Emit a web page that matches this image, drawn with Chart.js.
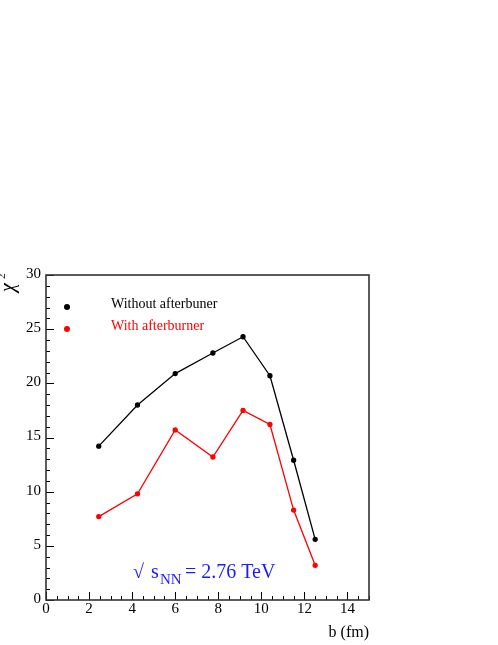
<!DOCTYPE html>
<html>
<head>
<meta charset="utf-8">
<script src="https://cdn.jsdelivr.net/npm/chart.js@4"></script>
<style>
  html, body { margin: 0; padding: 0; background: #fff; }
  #wrap { width: 498px; height: 645px; position: relative; }
</style>
</head>
<body>
<div id="wrap"><canvas id="chi2Chart" width="498" height="645"></canvas></div>
<script>
// valori
const impactB = [2.45, 4.25, 6.0, 7.75, 9.15, 10.4, 11.5, 12.5];
const chi2Without = [14.2, 18.0, 20.9, 22.8, 24.3, 20.7, 12.9, 5.6];
const chi2With = [7.7, 9.8, 15.7, 13.2, 17.5, 16.2, 8.3, 3.2];
const xTickLabels = [0, 2, 4, 6, 8, 10, 12, 14];
const yTickLabels = [0, 5, 10, 15, 20, 25, 30];
const legendLabels = ['Without afterbuner', 'With afterburner'];

const serif = '"Liberation Serif", "DejaVu Serif", serif';

// disegna cornice, tacche e testi alla maniera di ROOT
const rootFrame = {
  id: 'rootFrame',
  afterDraw(chart) {
    const ctx = chart.ctx;
    const xs = chart.scales.x;
    const ys = chart.scales.y;
    const a = chart.chartArea;
    ctx.save();

    // tacche
    ctx.strokeStyle = '#000';
    ctx.lineWidth = 1;
    for (let v = 0; v <= 15; v += 0.5) {
      const px = Math.round(xs.getPixelForValue(v)) + 0.5;
      const len = (v % 2 === 0) ? 8 : 4;
      ctx.beginPath();
      ctx.moveTo(px, a.bottom);
      ctx.lineTo(px, a.bottom - len);
      ctx.stroke();
    }
    for (let v = 0; v <= 30; v += 1) {
      const py = Math.round(ys.getPixelForValue(v)) + 0.5;
      const len = (v % 5 === 0) ? 8 : 4;
      ctx.beginPath();
      ctx.moveTo(a.left, py);
      ctx.lineTo(a.left + len, py);
      ctx.stroke();
    }

    // cornice
    ctx.strokeStyle = '#333';
    ctx.lineWidth = 1.6;
    ctx.strokeRect(a.left, a.top, a.right - a.left, a.bottom - a.top);

    // etichette
    ctx.fillStyle = '#000';
    ctx.font = '15px ' + serif;
    ctx.textAlign = 'center';
    ctx.textBaseline = 'middle';
    xTickLabels.forEach(v => {
      ctx.fillText(String(v), xs.getPixelForValue(v), a.bottom + 9);
    });
    ctx.textAlign = 'right';
    yTickLabels.forEach(v => {
      ctx.fillText(String(v), a.left - 5, ys.getPixelForValue(v) - 1);
    });

    // titoli degli assi
    ctx.font = '16px ' + serif;
    ctx.textAlign = 'right';
    ctx.textBaseline = 'alphabetic';
    ctx.fillText('b (fm)', a.right, 637);

    ctx.save();
    ctx.translate(14, 292);
    ctx.rotate(-Math.PI / 2);
    ctx.textAlign = 'left';
    ctx.font = 'italic 20px ' + serif;
    ctx.fillText('\u03C7', 0, 0);
    ctx.font = '11px ' + serif;
    ctx.fillText('2', 13, -9);
    ctx.restore();

    // legenda
    const colors = ['#000', '#ff0000'];
    const legY = [307, 329];
    ctx.font = '14px ' + serif;
    ctx.textAlign = 'left';
    ctx.textBaseline = 'middle';
    legendLabels.forEach((t, i) => {
      ctx.fillStyle = colors[i];
      ctx.beginPath();
      ctx.arc(67, legY[i], 3, 0, Math.PI * 2);
      ctx.fill();
      ctx.fillText(t, 111, legY[i] - 3);
    });

    // energia
    ctx.fillStyle = '#1a1aff';
    ctx.textBaseline = 'alphabetic';
    ctx.font = '20px ' + serif;
    ctx.fillText('\u221A', 133, 578);
    ctx.fillText('s', 151, 578);
    ctx.font = '15px ' + serif;
    ctx.fillText('NN', 160, 584);
    ctx.font = '20px ' + serif;
    ctx.fillText('= 2.76 TeV', 185, 578);

    ctx.restore();
  }
};

const ctx = document.getElementById('chi2Chart').getContext('2d');
new Chart(ctx, {
  type: 'line',
  data: {
    datasets: [
      {
        label: legendLabels[0],
        data: impactB.map((b, i) => ({ x: b, y: chi2Without[i] })),
        borderColor: '#000',
        backgroundColor: '#000',
        borderWidth: 1.3,
        pointRadius: 2,
        tension: 0
      },
      {
        label: legendLabels[1],
        data: impactB.map((b, i) => ({ x: b, y: chi2With[i] })),
        borderColor: '#ff0000',
        backgroundColor: '#ff0000',
        borderWidth: 1.3,
        pointRadius: 2,
        tension: 0
      }
    ]
  },
  options: {
    responsive: false,
    animation: false,
    devicePixelRatio: 1,
    layout: { padding: { left: 46, right: 129, top: 275, bottom: 45 } },
    plugins: { legend: { display: false }, tooltip: { enabled: false } },
    scales: {
      x: { type: 'linear', min: 0, max: 15, display: false },
      y: { type: 'linear', min: 0, max: 30, display: false }
    }
  },
  plugins: [rootFrame]
});
</script>
</body>
</html>
